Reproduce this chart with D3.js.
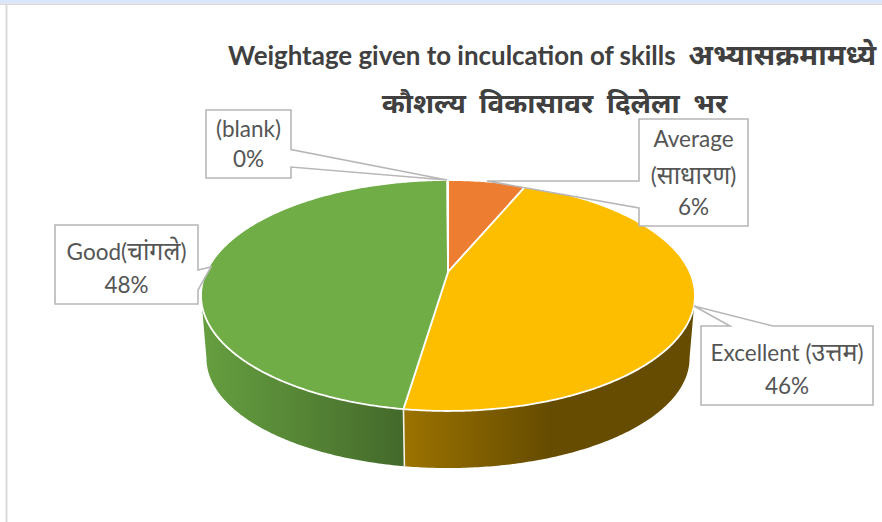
<!DOCTYPE html>
<html>
<head>
<meta charset="utf-8">
<script src="https://cdn.jsdelivr.net/npm/d3@7/dist/d3.min.js"></script>
<style>html,body{margin:0;padding:0;background:#fff;overflow:hidden}svg{display:block}
text{font-family:Lato,"Noto Sans","Noto Sans Devanagari",sans-serif}</style>
</head>
<body>
<svg id="c" width="882" height="522"></svg>
<script>
// Data, clockwise from the top of the pie
const categories = ["Average (साधारण)", "Excellent (उत्तम)", "Good(चांगले)", "(blank)"];
const shares = [6.25, 46.1, 47.6, 0.05];
const colours = ["#ED7D31", "#FEBE00", "#70AD47", "#A5A5A5"];
const percentLabels = ["6%", "46%", "48%", "0%"];
const titleLines = ["Weightage given to inculcation of skills  अभ्यासक्रमामध्ये", "कौशल्य  विकासावर  दिलेला  भर"];
const labelLines = [["Average", "(साधारण)", "6%"], ["Excellent (उत्तम)", "46%"], ["Good(चांगले)", "48%"], ["(blank)", "0%"]];

const W = 882, H = 522;
const svg = d3.select("#c").attr("viewBox", [0, 0, W, H]);

// Adds text runs, with Devanagari runs set at their own size
const runs = (sel, str, latinSize, devaSize) => {
  str.split(/([\u0900-\u097F][\u0900-\u097F\s]*[\u0900-\u097F]|[\u0900-\u097F])/).filter(s => s).forEach(s => {
    sel.append("tspan").attr("font-size", /[\u0900-\u097F]/.test(s) ? devaSize : latinSize).text(s);
  });
  return sel;
};

// Frame
svg.append("rect").attr("width", W).attr("height", 3.5).attr("fill", "#dae7fa");
svg.append("rect").attr("y", 3.5).attr("width", W).attr("height", 1.5).attr("fill", "#d9d9d9");
svg.append("rect").attr("x", 5.5).attr("y", 4).attr("width", 2).attr("height", H).attr("fill", "#d9d9d9");

// Perspective projection of a unit disc
const cx = 448, cy = 272, k = 0.2035, a = 241.8, b = 110.7;
const topP = t => {
  const u = Math.sin(t), v = -Math.cos(t), w = 1 - k * v;
  return [cx + a * u / w, cy + b * v / w];
};
const botP = t => {
  const u = Math.sin(t), v = -Math.cos(t), w = 1 - k * v;
  return [cx + 0.978 * a * u / w, cy + 64 + 0.95 * b * v / w];
};
const pie = d3.pie().sort(null).value(d => d).startAngle(0).endAngle(2 * Math.PI);
const arcs = pie(shares);
const sampled = (t0, t1) => {
  const n = Math.max(2, Math.ceil((t1 - t0) / 0.01));
  return d3.range(n + 1).map(i => t0 + (t1 - t0) * i / n);
};
const line = d3.line();
const defs = svg.append("defs");
const grad = (id, x1, x2, stops) => {
  const g = defs.append("linearGradient").attr("id", id).attr("gradientUnits", "userSpaceOnUse")
    .attr("x1", x1).attr("x2", x2).attr("y1", 0).attr("y2", 0);
  stops.forEach(s => g.append("stop").attr("offset", s[0]).attr("stop-color", s[1]));
};
grad("sideY", 403, 695, [[0, "#9c7300"], [0.5, "#664c00"], [1, "#664c00"]]);
grad("sideG", 203, 404, [[0, "#659e40"], [0.5, "#558535"], [1, "#44692b"]]);

const tangent = Math.acos(-k);
const sides = [
  {t0: tangent, t1: arcs[1].endAngle, fill: "url(#sideY)"},
  {t0: arcs[1].endAngle, t1: 2 * Math.PI - tangent, fill: "url(#sideG)"}
];
const sideG = svg.append("g");
sides.forEach(s => {
  const ts = sampled(s.t0, s.t1);
  const pts = ts.map(topP).concat(ts.slice().reverse().map(botP));
  sideG.append("path").attr("d", line(pts) + "Z").attr("fill", s.fill);
});
// Light seam between the two side walls
sideG.append("line")
  .attr("x1", topP(arcs[1].endAngle)[0]).attr("y1", topP(arcs[1].endAngle)[1])
  .attr("x2", botP(arcs[1].endAngle)[0]).attr("y2", botP(arcs[1].endAngle)[1])
  .attr("stroke", "#f3f3e8").attr("stroke-width", 1.6);

// Top face
const faceG = svg.append("g");
arcs.forEach((d, i) => {
  const rim = sampled(d.startAngle, d.endAngle).map(topP);
  faceG.append("path")
    .attr("d", line([[cx, cy]].concat(rim)) + "Z")
    .attr("fill", colours[i])
    .attr("stroke", "#fff").attr("stroke-width", 1.8).attr("stroke-linejoin", "round");
});

// Callouts
const callouts = [
  {box: [639, 119, 748, 226], pts: [[639, 208], [487, 181], [639, 181]], side: "l", ys: [147, 184, 215]},
  {box: [701, 326, 873, 405], pts: [[773, 326], [694, 306], [730, 326]], side: "t", ys: [361, 394]},
  {box: [55, 225, 198, 304], pts: [[198, 270], [211, 267], [198, 290]], side: "r", ys: [260, 293]},
  {box: [206, 110, 291, 178], pts: [[291, 149.5], [447, 180], [291, 167]], side: "r", ys: [137, 167]}
];
const labelG = svg.append("g");
callouts.forEach((c, i) => {
  const [x0, y0, x1, y1] = c.box;
  const [p, tip, q] = c.pts;
  let path;
  if (c.side === "l") path = [[x0, y0], [x1, y0], [x1, y1], [x0, y1], p, tip, q];
  if (c.side === "t") path = [[x0, y0], q, tip, p, [x1, y0], [x1, y1], [x0, y1]];
  if (c.side === "r") path = [[x0, y0], [x1, y0], p, tip, q, [x1, y1], [x0, y1]];
  labelG.append("path").attr("d", line(path) + "Z")
    .attr("fill", "#fff").attr("stroke", "#b7b7b7").attr("stroke-width", 1.6);
  labelLines[i].forEach((t, j) => {
    const el = labelG.append("text").attr("x", (x0 + x1) / 2).attr("y", c.ys[j])
      .attr("text-anchor", "middle").attr("fill", "#555");
    runs(el, t, 22.5, 25);
  });
});

// Title
const title = svg.append("g").attr("font-weight", 700).attr("fill", "#404040");
runs(title.append("text").attr("x", 228).attr("y", 65).attr("xml:space", "preserve"), titleLines[0], 25.9, 29);
runs(title.append("text").attr("x", 554.5).attr("y", 113).attr("text-anchor", "middle").attr("xml:space", "preserve"), titleLines[1], 25.9, 27.8);
</script>
</body>
</html>
